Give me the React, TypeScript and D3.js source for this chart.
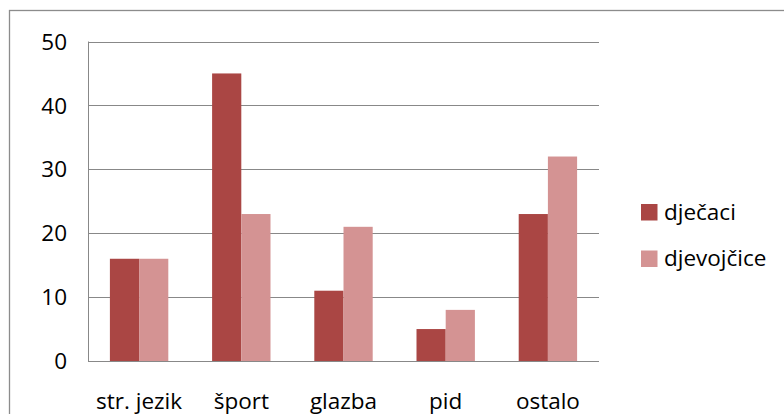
import * as d3 from 'd3';

const categories = ['str. jezik', 'šport', 'glazba', 'pid', 'ostalo'];
const seriesNames = ['dječaci', 'djevojčice'];
const boys = [16, 45, 11, 5, 23];
const girls = [16, 23, 21, 8, 32];
const yTicks = [0, 10, 20, 30, 40, 50];

const colors = ['#AA4644', '#D49393'];
const font = '"Open Sans", sans-serif';

const W = 784;
const H = 414;
const plot = { left: 88, right: 599, top: 41.5, bottom: 361 };

export default function App() {
  const x = d3
    .scaleBand<string>()
    .domain(categories)
    .range([plot.left, plot.right])
    .paddingInner(0)
    .paddingOuter(0);

  const y = d3.scaleLinear().domain([0, 50]).range([plot.bottom, plot.top]);

  // bar width: band split into gap (1.5 bar) + 2 bars
  const barW = x.bandwidth() / 3.5;
  const groupOffset = (x.bandwidth() - 2 * barW) / 2;
  const series = [boys, girls];

  return (
    <svg
      width={W}
      height={H}
      style={{ position: 'absolute', left: 0, top: 0, background: '#fff' }}
    >
      <rect x={0} y={0} width={W} height={H} fill="#fff" />
      {/* outer chart frame, runs off right/bottom */}
      <rect x={9.5} y={10.5} width={W} height={H} fill="none" stroke="#8c8c8c" strokeWidth={1.3} />

      {/* gridlines */}
      {yTicks.map((t) => (
        <line
          key={t}
          x1={plot.left}
          x2={plot.right}
          y1={Math.round(y(t)) + 0.5}
          y2={Math.round(y(t)) + 0.5}
          stroke="#888"
          strokeWidth={1}
        />
      ))}
      <line x1={plot.left + 0.5} x2={plot.left + 0.5} y1={plot.top} y2={plot.bottom + 0.5} stroke="#888" />

      {/* bars */}
      {series.map((vals, si) =>
        vals.map((v, i) => (
          <rect
            key={`${si}-${i}`}
            x={(x(categories[i]) as number) + groupOffset + si * barW}
            y={y(v)}
            width={barW}
            height={y(0) - y(v)}
            fill={colors[si]}
          />
        ))
      )}

      {/* y tick labels */}
      {yTicks.map((t) => (
        <text
          key={t}
          x={67}
          y={y(t)}
          dy="0.36em"
          textAnchor="end"
          fontFamily={font}
          fontSize={22.5}
          fill="#000"
        >
          {t}
        </text>
      ))}

      {/* category labels */}
      {categories.map((c) => (
        <text
          key={c}
          x={(x(c) as number) + x.bandwidth() / 2}
          y={409}
          textAnchor="middle"
          fontFamily={font}
          fontSize={22.5}
          fill="#000"
        >
          {c}
        </text>
      ))}

      {/* legend */}
      {seriesNames.map((name, i) => (
        <g key={name} transform={`translate(641, ${204 + i * 46.5})`}>
          <rect x={0} y={0} width={16.5} height={16.5} fill={colors[i]} />
          <text x={23} y={15.5} fontFamily={font} fontSize={22.5} fill="#000">
            {name}
          </text>
        </g>
      ))}
    </svg>
  );
}
